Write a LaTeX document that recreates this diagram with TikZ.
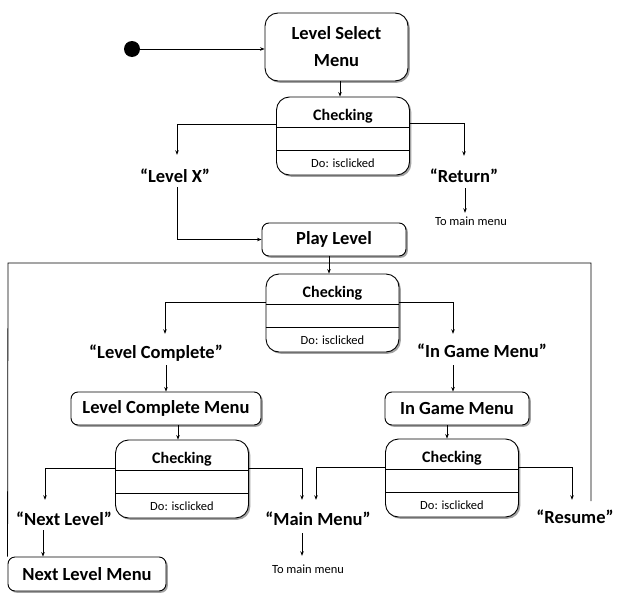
\documentclass[tikz,border=0pt]{standalone}
\usepackage{fontspec}
\setmainfont{Carlito}
\usetikzlibrary{arrows.meta,shadows}
\newcommand\fbig{\fontsize{18.5}{27}\selectfont\bfseries}
\newcommand\fmid{\fontsize{16}{19}\selectfont\bfseries}
\newcommand\fsml{\fontsize{12.5}{15}\selectfont}
\newcommand\mkchk[3]{%
  \node[chk] (#1) at (#2,#3+39) {};
  \draw[ln] (#1.west |- 0,#3+30.5) -- (#1.east |- 0,#3+30.5);
  \draw[ln] (#1.west |- 0,#3+53.5) -- (#1.east |- 0,#3+53.5);
  \node[font=\fmid, inner sep=0pt, anchor=base] (#1t) at (#2,#3+23.5) {Checking};
  \node[font=\fsml, inner sep=0pt, anchor=base] (#1d) at (#2,#3+70) {Do: isclicked};
}
\begin{document}
\begin{tikzpicture}[x=1pt,y=-1pt,
  ln/.style={line width=0.8pt, draw=black},
  arr/.style={ln, -{Stealth[length=4.5pt,width=3.5pt]}},
  box/.style={draw=black, line width=0.9pt, rounded corners=#1, fill=white,
    drop shadow={shadow xshift=1.8pt, shadow yshift=-1.8pt, fill=black!45, opacity=0.8},
    inner sep=0pt, font=\fbig, align=center},
  box/.default=7pt,
  chk/.style={box=13pt, minimum width=133pt, minimum height=78pt},
  lbl/.style n args={2}{inner sep=0pt, anchor=base, text height=#1, text depth=#2, font=\fbig},
  sml/.style n args={2}{inner sep=0pt, anchor=base, text height=#1, text depth=#2, font=\fsml}
]
\fill[white] (0,0) rectangle (637,597);
\useasboundingbox (0,0) rectangle (637,597);

% states
\node[circle, fill=black, inner sep=0pt, minimum size=16pt] (dot) at (132,49) {};
\node[box=13pt, minimum width=143pt, minimum height=68pt] (LSM) at (336.5,47) {Level Select\\Menu};
\mkchk{chkA}{343}{97}
\node[lbl={27pt}{5pt}] (lx) at (175,182) {“Level X”};
\node[lbl={26pt}{6pt}] (ret) at (464,182) {“Return”};
\node[sml={12pt}{0pt}] (tmA) at (471,225) {To main menu};
\node[box, minimum width=144pt, minimum height=33pt] (PL) at (334,239.5) {Play Level};

\coordinate (ftl) at (8,263);
\coordinate (ftr) at (591,263);
\coordinate (fend) at (591,501);

\mkchk{chkB}{332.5}{274}
\node[lbl={24pt}{7pt}] (lc) at (156,358) {“Level Complete”};
\node[lbl={23.5pt}{7.5pt}] (igl) at (482,357.5) {“In Game Menu”};
\node[box, minimum width=190pt, minimum height=33pt] (LCM) at (166,408.5) {Level Complete Menu};
\node[box, minimum width=144pt, minimum height=33pt] (IGM) at (457,408.5) {In Game Menu};
\mkchk{chkC}{182}{440}
\mkchk{chkD}{452}{439}
\node[lbl={25pt}{5pt}] (nl) at (64,525) {“Next Level”};
\node[lbl={25pt}{8pt}] (mm) at (318,525) {“Main Menu”};
\node[lbl={23pt}{2pt}] (res) at (575,523) {“Resume”};
\node[sml={17pt}{0pt}] (tmB) at (308,573) {To main menu};
\node[box, minimum width=158pt, minimum height=34pt] (NLM) at (87,574) {Next Level Menu};

% connectors
\draw[arr] (dot) -- (dot -| LSM.west);
\draw[arr] (LSM.south -| 340,0) -- (chkA.north -| 340,0);
\draw[arr] (chkA.west |- 0,124) -| (lx.north -| 177,0);
\draw[arr] (chkA.east |- 0,123) -| (ret.north -| 464,0);
\draw[arr] (ret.south -| 465,0) -- (tmA.north -| 465,0);
\draw[arr] (lx.south -| 177,0) |- (PL.west);
\draw[ln] (NLM.north west) -- (ftl) -- (ftr) -- (fend);
\draw[arr] (PL.south -| 329,0) -- (chkB.north -| 329,0);
\draw[arr] (chkB.west |- 0,302) -| (lc.north -| 165,0);
\draw[arr] (chkB.east |- 0,302) -| (igl.north -| 453,0);
\draw[arr] (lc.south -| 166,0) -- (LCM.north -| 166,0);
\draw[arr] (igl.south -| 453,0) -- (IGM.north -| 453,0);
\draw[arr] (LCM.south -| 178,0) -- (chkC.north -| 178,0);
\draw[arr] (IGM.south -| 447,0) -- (chkD.north -| 447,0);
\draw[arr] (chkC.west |- 0,468) -| (nl.north -| 45,0);
\draw[arr] (chkC.east |- 0,468) -| (mm.north -| 302,0);
\draw[arr] (chkD.west |- 0,467) -| (mm.north -| 316,0);
\draw[arr] (chkD.east |- 0,467) -| (res.north -| 572,0);
\draw[arr] (nl.south -| 43,0) -- (NLM.north -| 43,0);
\draw[arr] (mm.south -| 302,0) -- (tmB.north -| 302,0);
\end{tikzpicture}
\end{document}
